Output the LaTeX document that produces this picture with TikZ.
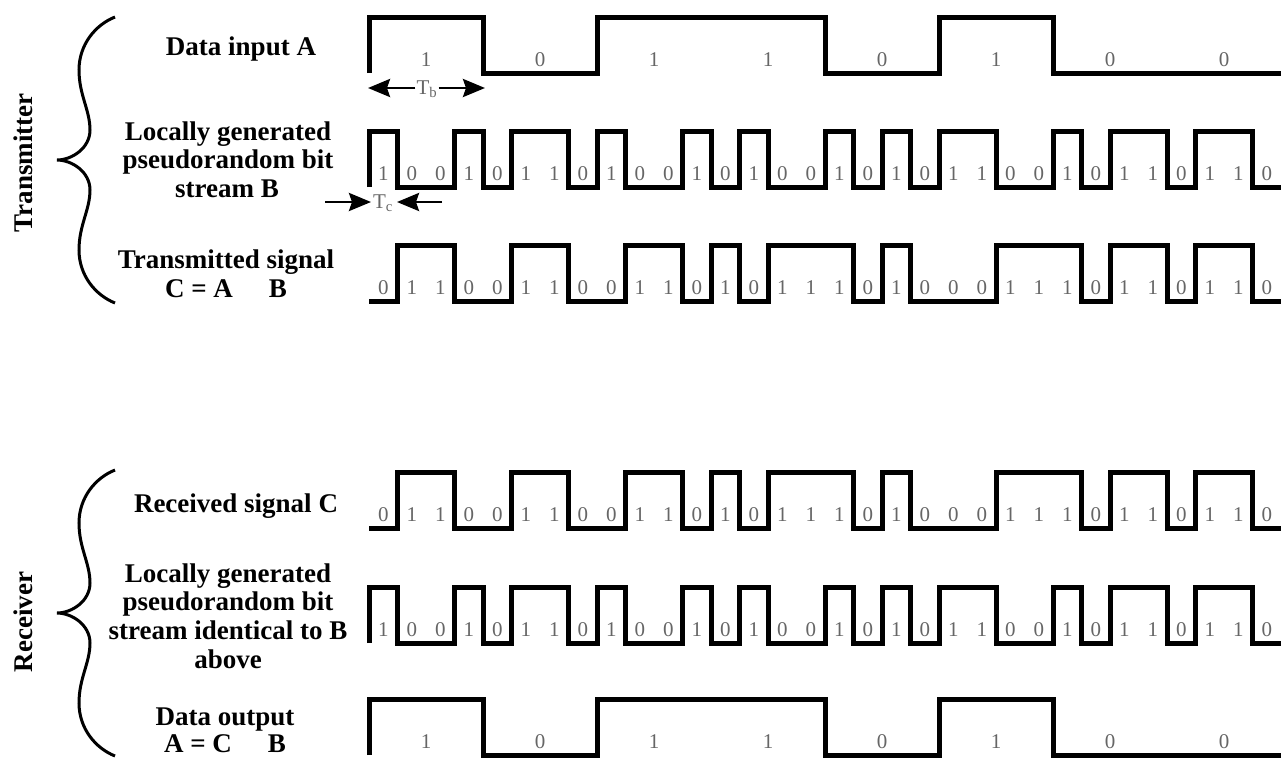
\documentclass[tikz,border=0pt]{standalone}
\usepackage{fontspec}
\setmainfont{Liberation Serif}
\usetikzlibrary{arrows.meta}

% Waveform: #1 = y of the low level, #2 = symbol width, #3 = symbols (0/1)
\newcommand\wave[3]{%
  \gdef\wpath{}\gdef\wprev{0}\gdef\wcount{0}%
  \foreach \b [count=\i from 0] in {#3} {%
    \pgfmathsetmacro\wx{369+\i*#2}%
    \ifnum\b=\wprev\relax\else
      \pgfmathsetmacro\wyold{#1-\wprev*56}%
      \pgfmathsetmacro\wynew{#1-\b*56}%
      \ifnum\i=0\relax
        \xdef\wpath{\wpath -- (\wx,\wynew)}%
      \else
        \xdef\wpath{\wpath -- (\wx,\wyold) -- (\wx,\wynew)}%
      \fi
    \fi
    \xdef\wprev{\b}\xdef\wcount{\i}%
  }%
  \pgfmathsetmacro\wx{369+(\wcount+1)*#2}%
  \pgfmathsetmacro\wy{#1-\wprev*56}%
  \edef\wdo{\noexpand\draw[wave] (369,#1) \wpath\space -- (\wx,\wy);}%
  \wdo
}

% Symbol values written inside each interval: #1 = name prefix, #2 = low y,
% #3 = symbol width, #4 = symbols
\newcommand\bitlabels[4]{%
  \foreach \b [count=\i from 0] in {#4}
    \node[digit] (#1\i) at ({369+(\i+0.5)*#3},{#2-13}) {\b};
}

% Curly brace with its tip at (57,#1)
\newcommand\curly[1]{%
  \draw[brace] (115,{#1-143}) .. controls (95,{#1-135}) and (79,{#1-115}) ..
    (79,{#1-90}) .. controls (79,{#1-65}) and (90,{#1-50}) ..
    (90,{#1-30}) .. controls (90,{#1-12}) and (72,#1) .. (57,#1)
    .. controls (72,#1) and (90,{#1+12}) .. (90,{#1+30})
    .. controls (90,{#1+50}) and (79,{#1+65}) .. (79,{#1+90})
    .. controls (79,{#1+115}) and (95,{#1+135}) .. (115,{#1+143});
}

\begin{document}
\begin{tikzpicture}[x=1pt,y=-1pt,
  wave/.style={line width=5pt, line join=miter, line cap=butt},
  lbl/.style={font=\bfseries\fontsize{27}{29}\selectfont, inner sep=0pt, anchor=base},
  side/.style={font=\bfseries\fontsize{27}{29}\selectfont, inner sep=0pt, rotate=90},
  digit/.style={font=\fontsize{21}{21}\selectfont, text=black!60, inner sep=0pt},
  dim/.style={font=\fontsize{21}{21}\selectfont, text=black!60, inner sep=1pt},
  dimarrow/.style={line width=2.8pt, -{Stealth[length=22pt,width=18pt,inset=3pt]}},
  brace/.style={line width=3pt}]
\useasboundingbox (0,0) rectangle (1286,758);

% ---------------- Transmitter ----------------
\curly{160}
\node[side] (tx) at (23,163) {Transmitter};

\node[lbl] (dataA) at (241,55) {Data input A};
\node[lbl] (lgA1) at (228,140) {Locally generated};
\node[lbl] (lgA2) at (228,168) {pseudorandom bit};
\node[lbl] (lgA3) at (227,197) {stream B};
\node[lbl] (ts1) at (226,268) {Transmitted signal};
\node[lbl] (ts2) at (226,297) {C = A\hspace{36pt}B};

% data A
\wave{73}{114}{1,0,1,1,0,1,0,0}
\bitlabels{a}{73}{114}{1,0,1,1,0,1,0,0}
% pseudorandom stream B
\wave{187}{28.5}{1,0,0,1,0,1,1,0,1,0,0,1,0,1,0,0,1,0,1,0,1,1,0,0,1,0,1,1,0,1,1,0}
\bitlabels{b}{187}{28.5}{1,0,0,1,0,1,1,0,1,0,0,1,0,1,0,0,1,0,1,0,1,1,0,0,1,0,1,1,0,1,1,0}
% transmitted C
\wave{301}{28.5}{0,1,1,0,0,1,1,0,0,1,1,0,1,0,1,1,1,0,1,0,0,0,1,1,1,0,1,1,0,1,1,0}
\bitlabels{c}{301}{28.5}{0,1,1,0,0,1,1,0,0,1,1,0,1,0,1,1,1,0,1,0,0,0,1,1,1,0,1,1,0,1,1,0}

% bit and chip durations
\coordinate (tbL) at (368,88);
\coordinate (tbR) at (485,88);
\node[dim] (tb) at (427,89) {T\textsubscript{b}};
\draw[dimarrow] (tb.west |- tbL) -- (tbL);
\draw[dimarrow] (tb.east |- tbR) -- (tbR);

\coordinate (tcA) at (325,202);
\coordinate (tcB) at (371,202);
\coordinate (tcC) at (397,202);
\coordinate (tcD) at (442,202);
\node[dim, inner sep=0pt] (tc) at (383,203) {T\textsubscript{c}};
\draw[dimarrow] (tcA) -- (tcB);
\draw[dimarrow] (tcD) -- (tcC);

% ---------------- Receiver ----------------
\curly{613}
\node[side] (rx) at (23,622) {Receiver};

\node[lbl] (rc) at (236,512) {Received signal C};
\node[lbl] (lgB1) at (228,582) {Locally generated};
\node[lbl] (lgB2) at (228,610) {pseudorandom bit};
\node[lbl] (lgB3) at (228,639) {stream identical to B};
\node[lbl] (lgB4) at (228,668) {above};
\node[lbl] (do1) at (225,725) {Data output};
\node[lbl] (do2) at (225,752) {A = C\hspace{36pt}B};

% received C
\wave{528}{28.5}{0,1,1,0,0,1,1,0,0,1,1,0,1,0,1,1,1,0,1,0,0,0,1,1,1,0,1,1,0,1,1,0}
\bitlabels{rc}{528}{28.5}{0,1,1,0,0,1,1,0,0,1,1,0,1,0,1,1,1,0,1,0,0,0,1,1,1,0,1,1,0,1,1,0}
% local stream B
\wave{643}{28.5}{1,0,0,1,0,1,1,0,1,0,0,1,0,1,0,0,1,0,1,0,1,1,0,0,1,0,1,1,0,1,1,0}
\bitlabels{rb}{643}{28.5}{1,0,0,1,0,1,1,0,1,0,0,1,0,1,0,0,1,0,1,0,1,1,0,0,1,0,1,1,0,1,1,0}
% data output
\wave{755}{114}{1,0,1,1,0,1,0,0}
\bitlabels{o}{755}{114}{1,0,1,1,0,1,0,0}
\end{tikzpicture}
\end{document}
